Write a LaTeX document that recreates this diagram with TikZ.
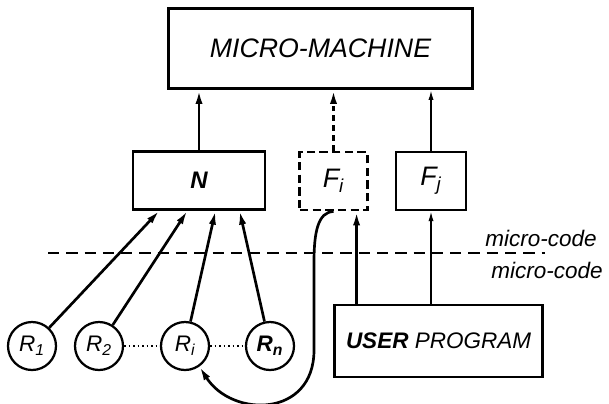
\documentclass[tikz,border=0pt]{standalone}
\usepackage{fontspec}
\setmainfont{Liberation Sans}
\usetikzlibrary{arrows.meta}

\begin{document}
\begin{tikzpicture}[x=0.025cm,y=-0.025cm,
    box/.style={draw,line width=2.1pt,inner sep=0pt,font=\fontsize{19}{19}\selectfont\itshape},
    reg/.style={draw,circle,line width=1.6pt,minimum size=1.2cm,inner sep=0pt,font=\fontsize{16}{16}\selectfont\itshape},
    arr/.style={line width=1.9pt,-{Latex[length=3.5mm,width=1.8mm]}},
    thinarr/.style={line width=1.1pt,-{Latex[length=2.5mm,width=1.3mm]}},
    lbl/.style={font=\fontsize{16}{16}\selectfont\itshape}]
    \useasboundingbox (0,0) rectangle (609,403);
    \node[box,minimum width=7.6cm,minimum height=2cm] (mm) at (320.5,48.5) {MICRO-MACHINE};
    \node[box,minimum width=3.3cm,minimum height=1.43cm,font=\fontsize{17}{17}\selectfont\bfseries\itshape] (n) at (199,180.5) {N};
    \node[box,dash pattern=on 6pt off 3pt,minimum width=1.68cm,minimum height=1.45cm] (fi) at (333.5,181) {F\textsubscript{i}};
    \node[box,line width=1.6pt,minimum width=1.75cm,minimum height=1.45cm] (fj) at (431,181) {F\textsubscript{j}};
    \node[box,minimum width=5.18cm,minimum height=1.8cm,font=\fontsize{16}{16}\selectfont\itshape] (up) at (438.5,341) {\textbf{USER} PROGRAM};
    \node[reg] (r1) at (32,346) {R\textsubscript{1}};
    \node[reg] (r2) at (99,346) {R\textsubscript{2}};
    \node[reg] (ri) at (185,346) {R\textsubscript{i}};
    \node[reg,font=\fontsize{16}{16}\selectfont\bfseries\itshape] (rn) at (270,346) {R\textsubscript{n}};
    \node[lbl] (above) at (541,238) {micro-code};
    \node[lbl] (below) at (547,270) {micro-code};
    \draw[line width=2pt,dash pattern=on 8pt off 5pt] (48,253) -- (545,253);
    \draw[arr] (n.north) -- (n.north |- mm.south);
    \draw[arr,dash pattern=on 4pt off 3pt] (fi.north) -- (fi.north |- mm.south);
    \draw[thinarr] (fj.north) -- (fj.north |- mm.south);
    \draw[arr] (r1) -- ([xshift=7mm]n.south west);
    \draw[arr] (r2) -- ([xshift=14mm]n.south west);
    \draw[arr] (ri) -- ([xshift=21mm]n.south west);
    \draw[arr] (rn) -- ([xshift=27mm]n.south west);
    \draw[line width=1.2pt,dotted] (r2) -- (ri);
    \draw[line width=1.2pt,dotted] (ri) -- (rn);
    \coordinate (fiin) at ([xshift=-3mm]fi.south east);
    \draw[arr] (fiin |- up.north) -- (fiin);
    \draw[thinarr] (fj.south |- up.north) -- (fj.south);
    \draw[arr] (fi.south) .. controls (318,212) and (314,232) .. (314,262) -- (314,350) .. controls (314,418) and (232,418) .. (ri.-55);
\end{tikzpicture}
\end{document}
